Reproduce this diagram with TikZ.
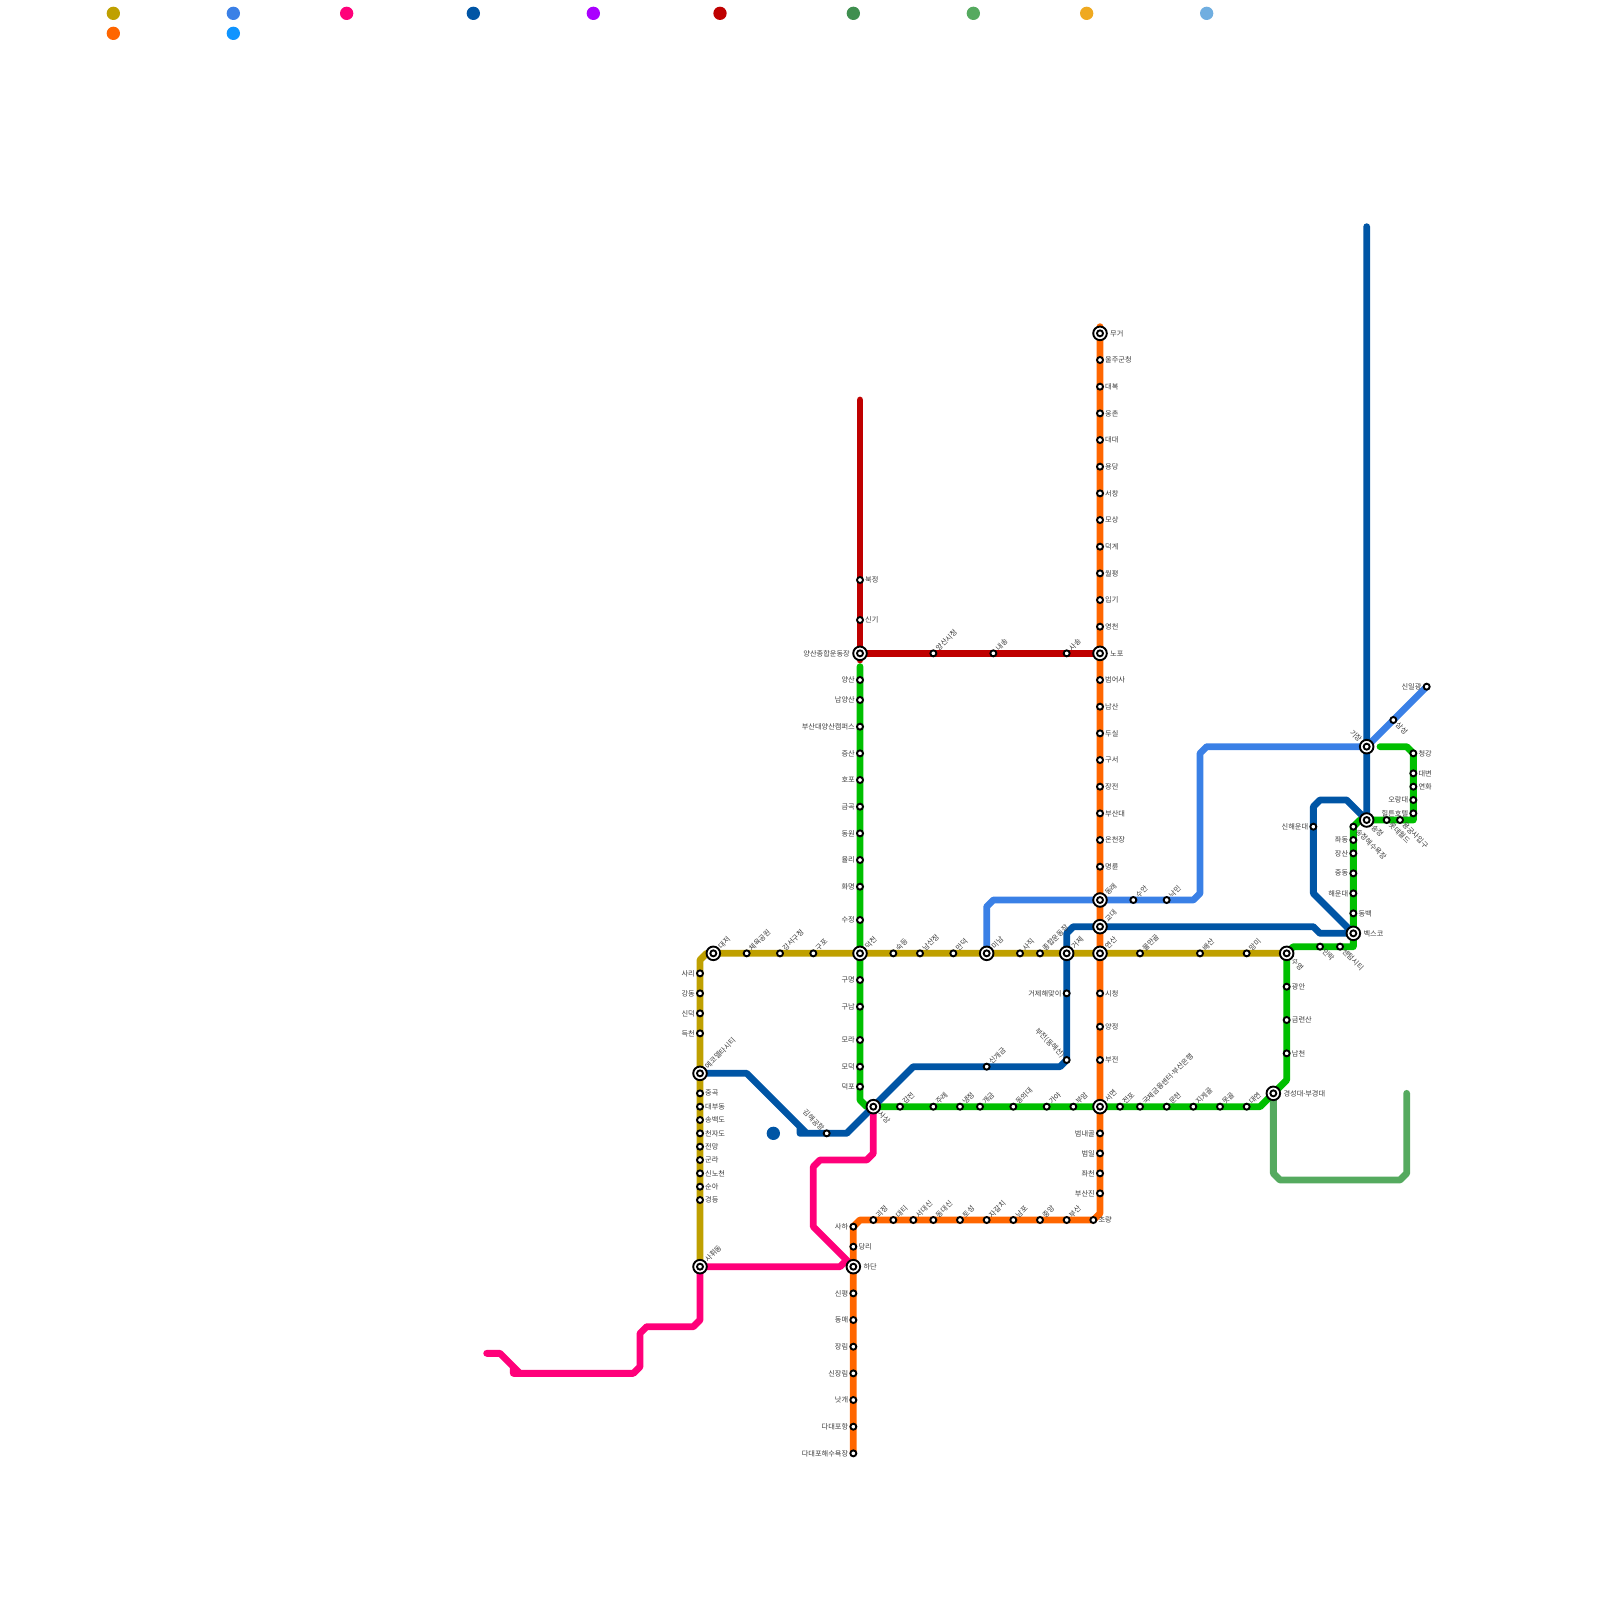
\documentclass[tikz,border=0pt]{standalone}
\usepackage{fontspec}
\setmainfont{Noto Sans CJK KR}
\newfontfamily\dotfont{Noto Sans}
\pgfdeclarelayer{lines}
\pgfsetlayers{lines,main}
\definecolor{cGold}{HTML}{BFA000}
\definecolor{cOrange}{HTML}{FF6600}
\definecolor{cLight}{HTML}{3A80E6}
\definecolor{cPink}{HTML}{FF007A}
\definecolor{cDark}{HTML}{0055A5}
\definecolor{cPurple}{HTML}{AA00FF}
\definecolor{cRed}{HTML}{BF0000}
\definecolor{cDGreen}{HTML}{3F8F4F}
\definecolor{cLime}{HTML}{00BF00}
\definecolor{cMid}{HTML}{55AA5F}
\definecolor{cAmber}{HTML}{EFA920}
\definecolor{cSky}{HTML}{70AEE0}
\definecolor{cAzure}{HTML}{0F94FF}
\definecolor{cText}{HTML}{3C3C3C}
\tikzset{
  sm/.style={circle,draw=black,fill=white,line width=1.9pt,minimum size=6pt,inner sep=0pt,outer sep=0pt},
  bg/.style={circle,draw=black,fill=white,line width=1.9pt,minimum size=13.6pt,inner sep=0pt,outer sep=0pt},
  lbl/.style={inner sep=0pt,text=cText,font=\fontsize{7.2pt}{8pt}\selectfont},
  lr/.style={lbl,xshift=5pt,anchor=west},
  ll/.style={lbl,xshift=-5pt,anchor=east},
  lu/.style={lbl,xshift=3.5pt,yshift=3.5pt,rotate=45,anchor=west},
  ld/.style={lbl,xshift=3.5pt,yshift=-3.5pt,rotate=-45,anchor=west},
  lul/.style={lbl,xshift=-3.5pt,yshift=3.5pt,rotate=-45,anchor=east},
  Lr/.style={lbl,xshift=10pt,anchor=west},
  Ll/.style={lbl,xshift=-10pt,anchor=east},
  Lu/.style={lbl,xshift=6pt,yshift=6pt,rotate=45,anchor=west},
  Ld/.style={lbl,xshift=6pt,yshift=-6pt,rotate=-45,anchor=west},
  Lul/.style={lbl,xshift=-6pt,yshift=6pt,rotate=-45,anchor=east},
  route/.style={line width=6.8pt,line cap=round,line join=round},
  dotk/.style={circle,fill=#1,minimum size=13.33pt,inner sep=0pt,outer sep=0pt}
}
% small station: id, x, y, label style, text
\newcommand{\ST}[5]{\node[sm] (#1) at (#2,#3) {}; \node[#4] (#1-l) at (#1.center) {#5};}
% interchange
\newcommand{\XT}[5]{\node[bg] (#1) at (#2,#3) {}; \node[sm] (#1-c) at (#1.center) {}; \node[#4] (#1-l) at (#1.center) {#5};}
\begin{document}
\begin{tikzpicture}[x=6.6667pt,y=-6.6667pt]
\useasboundingbox (0,0) rectangle (240,240);
% legend
\node[dotk=cGold] (k1) at (17,2) {};
\node[dotk=cOrange] (k2) at (17,5) {};
\node[dotk=cLight] (k3) at (35,2) {};
\node[dotk=cAzure] (k4) at (35,5) {};
\node[dotk=cPink] (k5) at (52,2) {};
\node[dotk=cDark] (k6) at (71,2) {};
\node[dotk=cPurple] (k7) at (89,2) {};
\node[dotk=cRed] (k8) at (108,2) {};
\node[dotk=cDGreen] (k9) at (128,2) {};
\node[dotk=cMid] (k10) at (146,2) {};
\node[dotk=cAmber] (k11) at (163,2) {};
\node[dotk=cSky] (k12) at (181,2) {};
\node[dotk=cDark] (k13) at (116,170) {};
% orange line
\XT{mugeo}{165}{50}{Lr}{무거}
\ST{ulju}{165}{54}{lr}{울주군청}
\ST{daebok}{165}{58}{lr}{대복}
\ST{ungchon}{165}{62}{lr}{웅촌}
\ST{daedae}{165}{66}{lr}{대대}
\ST{yongdang}{165}{70}{lr}{용당}
\ST{seochang}{165}{74}{lr}{서창}
\ST{mosang}{165}{78}{lr}{모상}
\ST{deokgye}{165}{82}{lr}{덕계}
\ST{wolpyeong}{165}{86}{lr}{월평}
\ST{ipgi}{165}{90}{lr}{입기}
\ST{yeongcheon}{165}{94}{lr}{영천}
\XT{nopo}{165}{98}{Lr}{노포}
\ST{beomeosa}{165}{102}{lr}{범어사}
\ST{namsan}{165}{106}{lr}{남산}
\ST{dusil}{165}{110}{lr}{두실}
\ST{guseo}{165}{114}{lr}{구서}
\ST{jangjeon}{165}{118}{lr}{장전}
\ST{pnu}{165}{122}{lr}{부산대}
\ST{oncheon}{165}{126}{lr}{온천장}
\ST{myeongnyun}{165}{130}{lr}{명륜}
\XT{dongnae}{165}{135}{Lu}{동래}
\XT{gyodae}{165}{139}{Lu}{교대}
\XT{yeonsan}{165}{143}{Lu}{연산}
\ST{sicheong}{165}{149}{lr}{시청}
\ST{yangjeong}{165}{154}{lr}{양정}
\ST{bujeon}{165}{159}{lr}{부전}
\XT{seomyeon}{165}{166}{Lu}{서면}
\ST{beomnae}{165}{170}{ll}{범내골}
\ST{beomil}{165}{173}{ll}{범일}
\ST{jwacheon}{165}{176}{ll}{좌천}
\ST{busanjin}{165}{179}{ll}{부산진}
\ST{choryang}{164}{183}{lr}{초량}
\ST{busan}{160}{183}{lu}{부산}
\ST{jungang}{156}{183}{lu}{중앙}
\ST{nampo}{152}{183}{lu}{남포}
\ST{jagalchi}{148}{183}{lu}{자갈치}
\ST{toseong}{144}{183}{lu}{토성}
\ST{dongdaesin}{140}{183}{lu}{동대신}
\ST{seodaesin}{137}{183}{lu}{서대신}
\ST{daeti}{134}{183}{lu}{대티}
\ST{goejeong}{131}{183}{lu}{괴정}
\ST{saha}{128}{184}{ll}{사하}
\ST{dangni}{128}{187}{lr}{당리}
\XT{hadan}{128}{190}{Lr}{하단}
\ST{sinpyeong}{128}{194}{ll}{신평}
\ST{dongmae}{128}{198}{ll}{동매}
\ST{jangnim}{128}{202}{ll}{장림}
\ST{sinjangnim}{128}{206}{ll}{신장림}
\ST{natgae}{128}{210}{ll}{낫개}
\ST{dadaepohang}{128}{214}{ll}{다대포항}
\ST{dadaebeach}{128}{218}{ll}{다대포해수욕장}
% gold line
\XT{daejeo}{107}{143}{Lu}{대저}
\ST{cheyuk}{112}{143}{lu}{체육공원}
\ST{gangseo}{117}{143}{lu}{강서구청}
\ST{gupo}{122}{143}{lu}{구포}
\XT{deokcheon}{129}{143}{Lu}{덕천}
\ST{sukdeung}{134}{143}{lu}{숙등}
\ST{namsanjeong}{138}{143}{lu}{남산정}
\ST{mandeok}{143}{143}{lu}{만덕}
\XT{minam}{148}{143}{Lu}{미남}
\ST{sajik}{153}{143}{lu}{사직}
\ST{stadium}{156}{143}{lu}{종합운동장}
\XT{geoje}{160}{143}{Lu}{거제}
\ST{mulmangol}{171}{143}{lu}{물만골}
\ST{baesan}{180}{143}{lu}{배산}
\ST{mangmi}{187}{143}{lu}{망미}
\XT{suyeong}{193}{143}{Ld}{수영}
\ST{sari}{105}{146}{ll}{사리}
\ST{gangdong}{105}{149}{ll}{강동}
\ST{sindeok}{105}{152}{ll}{신덕}
\ST{deukcheon}{105}{155}{ll}{득천}
\XT{ecodelta}{105}{161}{Lu}{에코델타시티}
\ST{junggok}{105}{164}{lr}{중곡}
\ST{daebu}{105}{166}{lr}{대부동}
\ST{songbaek}{105}{168}{lr}{송백도}
\ST{cheonja}{105}{170}{lr}{천자도}
\ST{jeonmang}{105}{172}{lr}{전망}
\ST{gunra}{105}{174}{lr}{군라}
\ST{sinnocheon}{105}{176}{lr}{신노천}
\ST{suna}{105}{178}{lr}{순아}
\ST{gyeongdeung}{105}{180}{lr}{경등}
\XT{sahwi}{105}{190}{Lu}{사휘동}
% red line
\ST{bukjeong}{129}{87}{lr}{북정}
\ST{singi}{129}{93}{lr}{신기}
\XT{yangsanst}{129}{98}{Ll}{양산종합운동장}
\ST{yangsancity}{140}{98}{lu}{양산시청}
\ST{naesong}{149}{98}{lu}{내송}
\ST{sasong}{160}{98}{lu}{사송}
% green line
\ST{yangsan}{129}{102}{ll}{양산}
\ST{namyangsan}{129}{105}{ll}{남양산}
\ST{pnuy}{129}{109}{ll}{부산대양산캠퍼스}
\ST{jeungsan}{129}{113}{ll}{증산}
\ST{hopo}{129}{117}{ll}{호포}
\ST{geumgok}{129}{121}{ll}{금곡}
\ST{dongwon}{129}{125}{ll}{동원}
\ST{yulli}{129}{129}{ll}{율리}
\ST{hwamyeong}{129}{133}{ll}{화명}
\ST{sujeong}{129}{138}{ll}{수정}
\ST{gumyeong}{129}{147}{ll}{구명}
\ST{gunam}{129}{151}{ll}{구남}
\ST{mora}{129}{156}{ll}{모라}
\ST{modeok}{129}{160}{ll}{모덕}
\ST{deokpo}{129}{163}{ll}{덕포}
\XT{sasang}{131}{166}{Ld}{사상}
\ST{gamjeon}{135}{166}{lu}{감전}
\ST{jurye}{140}{166}{lu}{주례}
\ST{naengjeong}{144}{166}{lu}{냉정}
\ST{gaegeum}{147}{166}{lu}{개금}
\ST{dongeui}{152}{166}{lu}{동의대}
\ST{gaya}{157}{166}{lu}{가야}
\ST{buam}{161}{166}{lu}{부암}
\ST{jeonpo}{168}{166}{lu}{전포}
\ST{bifc}{171}{166}{lu}{국제금융센터{\dotfont ·}부산은행}
\ST{munhyeon}{175}{166}{lu}{문현}
\ST{jigegol}{179}{166}{lu}{지게골}
\ST{motgol}{183}{166}{lu}{못골}
\ST{daeyeon}{187}{166}{lu}{대연}
\XT{kyungsung}{191}{164}{Lr}{경성대{\dotfont ·}부경대}
\ST{namcheon}{193}{158}{lr}{남천}
\ST{geumnyeon}{193}{153}{lr}{금련산}
\ST{gwangan}{193}{148}{lr}{광안}
\ST{millak}{198}{142}{ld}{민락}
\ST{centum}{201}{142}{ld}{센텀시티}
\XT{bexco}{203}{140}{Lr}{벡스코}
\ST{dongbaek}{203}{137}{lr}{동백}
\ST{haeundae}{203}{134}{ll}{해운대}
\ST{jungdong}{203}{131}{ll}{중동}
\ST{jangsan}{203}{128}{ll}{장산}
\ST{jwadong}{203}{126}{ll}{좌동}
\ST{songjeongb}{203}{124}{ld}{송정해수욕장}
\XT{songjeong}{205}{123}{Ld}{송정}
\ST{lotte}{208}{123}{ld}{롯데월드}
\ST{yonggung}{210}{123}{ld}{용궁사입구}
\ST{hilton}{212}{122}{ll}{힐튼호텔}
\ST{orangdae}{212}{120}{ll}{오랑대}
\ST{yeonhwa}{212}{118}{lr}{연화}
\ST{daebyeon}{212}{116}{lr}{대변}
\ST{cheonggang}{212}{113}{lr}{청강}
% light blue line
\ST{suan}{170}{135}{lu}{수안}
\ST{nakmin}{175}{135}{lu}{낙민}
\XT{gijang}{205}{112}{Lul}{기장}
\ST{samseong}{209}{108}{ld}{삼성}
\ST{sinilgwang}{214}{103}{ll}{신일광}
% dark blue line
\ST{geojehae}{160}{149}{ll}{거제해맞이}
\ST{bujeondh}{160}{159}{lul}{부전(동해선)}
\ST{singaegeum}{148}{160}{lu}{신개금}
\ST{gimhae}{124}{170}{lul}{김해공항}
\ST{sinhaeundae}{197}{124}{ll}{신해운대}
% bend coordinates
\coordinate (oTop) at (165,49);
\coordinate (oA) at (165,182);
\coordinate (oB) at (129,183);
\coordinate (gA) at (105,144);
\coordinate (gB) at (106,143);
\coordinate (lA) at (148,136);
\coordinate (lB) at (149,135);
\coordinate (lC) at (179,135);
\coordinate (lD) at (180,134);
\coordinate (lE) at (180,113);
\coordinate (lF) at (181,112);
\coordinate (rTop) at (129,60);
\coordinate (rLow) at (129,99);
\coordinate (eTop) at (129,100);
\coordinate (eA) at (129,165);
\coordinate (eB) at (130,166);
\coordinate (eC) at (189,166);
\coordinate (eD) at (193,162);
\coordinate (eE) at (194,142);
\coordinate (eF) at (203,142);
\coordinate (eG) at (203,124);
\coordinate (eH) at (204,123);
\coordinate (eI) at (212,123);
\coordinate (eJ) at (211,112);
\coordinate (eK) at (207,112);
\coordinate (dTop) at (205,34);
\coordinate (dA) at (202,120);
\coordinate (dB) at (198,120);
\coordinate (dC) at (197,121);
\coordinate (dD) at (197,134);
\coordinate (dE) at (198,140);
\coordinate (dF) at (197,139);
\coordinate (dG) at (161,139);
\coordinate (dH) at (160,140);
\coordinate (dI) at (159,160);
\coordinate (dJ) at (137,160);
\coordinate (dK) at (127,170);
\coordinate (dL) at (120,170);
\coordinate (dM) at (120,169);
\coordinate (dX) at (121,170);
\coordinate (dN) at (112,161);
\coordinate (dO) at (104.5,161);
\coordinate (pA) at (73,203);
\coordinate (pB) at (75,203);
\coordinate (pC) at (77,205);
\coordinate (pX) at (78,206);
\coordinate (pD) at (77,206);
\coordinate (pE) at (95,206);
\coordinate (pF) at (96,205);
\coordinate (pG) at (96,200);
\coordinate (pH) at (97,199);
\coordinate (pI) at (104,199);
\coordinate (pJ) at (105,198);
\coordinate (pK) at (126,190);
\coordinate (pL) at (127,189);
\coordinate (pM) at (122,184);
\coordinate (pN) at (122,175);
\coordinate (pO) at (123,174);
\coordinate (pP) at (130,174);
\coordinate (pQ) at (131,173);
\coordinate (mA) at (191,176);
\coordinate (mB) at (192,177);
\coordinate (mC) at (210,177);
\coordinate (mD) at (211,176);
\coordinate (mE) at (211,164);
\begin{pgfonlayer}{lines}
\draw[route,cMid] (kyungsung.center) -- (mA) -- (mB) -- (mC) -- (mD) -- (mE);
\draw[route,cLime] (eTop) -- (eA) -- (eB) -- (eC) -- (kyungsung.center) -- (eD) -- (suyeong.center) -- (eE) -- (eF) -- (eG) -- (eH) -- (eI) -- (cheonggang.center) -- (eJ) -- (eK);
\draw[route,cOrange] (oTop) -- (oA) -- (choryang.center) -- (oB) -- (saha.center) -- (dadaebeach.center);
\draw[route,cGold] (sahwi.center) -- (gA) -- (gB) -- (suyeong.center);
\draw[route,cLight] (minam.center) -- (lA) -- (lB) -- (lC) -- (lD) -- (lE) -- (lF) -- (gijang.center) -- (sinilgwang.center);
\draw[route,cRed] (rTop) -- (rLow);
\draw[route,cRed] (yangsanst.center) -- (nopo.center);
\draw[route,cDark] (dTop) -- (songjeong.center) -- (dA) -- (dB) -- (dC) -- (dD) -- (bexco.center) -- (dE) -- (dF) -- (dG) -- (dH) -- (bujeondh.center) -- (dI) -- (dJ) -- (dK) -- (dL) -- (dM) -- (dX) -- (dN) -- (dO);
\draw[route,cPink] (sasang.center) -- (pQ) -- (pP) -- (pO) -- (pN) -- (pM) -- (hadan.center) -- (pL) -- (pK) -- (sahwi.center) -- (pJ) -- (pI) -- (pH) -- (pG) -- (pF) -- (pE) -- (pD) -- (pC) -- (pX) -- (pB) -- (pA);
\end{pgfonlayer}
\end{tikzpicture}
\end{document}
